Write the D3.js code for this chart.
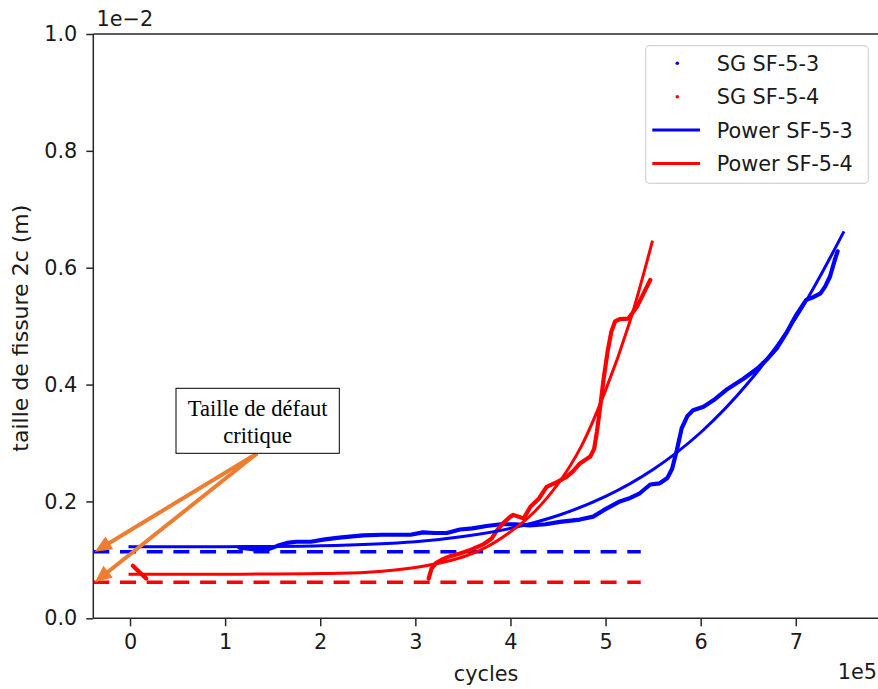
<!DOCTYPE html>
<html>
<head>
<meta charset="utf-8">
<script src="https://cdn.jsdelivr.net/npm/d3@7"></script>
<style>
  html, body { margin: 0; padding: 0; background: #fff; }
  svg { display: block; }
</style>
</head>
<body>
<svg id="chart" width="878" height="689"></svg>
<script>
// ---------------- DATA (x in 1e5 cycles, y in 1e-2 m) ----------------
const xTicks = [0, 1, 2, 3, 4, 5, 6, 7];
const yTicks = [0.0, 0.2, 0.4, 0.6, 0.8, 1.0];

const sgBlueX = [1.15,1.25,1.35,1.45,1.55,1.65,1.75,1.9,2.05,2.2,2.45,2.65,2.95,3.08,3.2,3.33,3.47,3.6,3.75,3.9,4.05,4.2,4.37,4.52,4.73,4.87,4.98,5.15,5.26,5.36,5.47,5.57,5.65,5.7,5.75,5.8,5.86,5.92,6.03,6.15,6.27,6.45,6.6,6.69,6.8,6.9,7.0,7.11,7.19,7.26,7.31,7.36,7.41,7.44];
const sgBlueY = [0.121,0.119,0.117,0.118,0.124,0.129,0.131,0.131,0.135,0.138,0.142,0.143,0.143,0.147,0.146,0.146,0.152,0.154,0.158,0.161,0.161,0.159,0.161,0.165,0.169,0.174,0.185,0.2,0.206,0.214,0.229,0.231,0.24,0.256,0.288,0.325,0.346,0.356,0.362,0.375,0.391,0.41,0.428,0.442,0.462,0.488,0.518,0.545,0.55,0.556,0.568,0.585,0.613,0.628];

const sgRedX = [0.03,0.1,0.17,null,3.14,3.17,3.22,3.3,3.36,3.47,3.58,3.72,3.8,3.86,3.93,4.0,4.03,4.14,4.21,4.3,4.38,4.5,4.59,4.66,4.73,4.84,4.88,4.91,4.95,4.98,5.02,5.06,5.1,5.15,5.24,5.33,5.4,5.47];
const sgRedY = [0.090,0.079,0.068,null,0.068,0.085,0.095,0.102,0.106,0.111,0.117,0.127,0.136,0.151,0.164,0.174,0.177,0.171,0.191,0.205,0.225,0.234,0.242,0.252,0.265,0.277,0.29,0.32,0.37,0.41,0.455,0.49,0.508,0.512,0.513,0.533,0.556,0.579];

const powBlueX = [0, 1, 2, 3, 3.5, 4, 4.5, 5, 5.5, 6, 6.5, 7, 7.5];
const powBlueY = [0.1225, 0.1226, 0.124, 0.131, 0.14, 0.154, 0.176, 0.2086, 0.2547, 0.318, 0.403, 0.514, 0.66];

const powRedX = [0, 1, 2, 2.5, 3, 3.5, 3.75, 4, 4.25, 4.5, 4.75, 5, 5.25, 5.49];
const powRedY = [0.0755, 0.0755, 0.0765, 0.079, 0.087, 0.105, 0.122, 0.148, 0.182, 0.23, 0.296, 0.39, 0.505, 0.644];

const criticalBlue = 0.114;
const criticalRed = 0.0616;
const criticalXEnd = 5.37;

const legendLabels = ["SG SF-5-3", "SG SF-5-4", "Power SF-5-3", "Power SF-5-4"];
const annotationLines = ["Taille de défaut", "critique"];

// ---------------- LAYOUT ----------------
const svg = d3.select("#chart");
const W = 878, H = 689;
const plot = { left: 93.3, right: 879, top: 34, bottom: 618.3 };
const BLUE = "#0000ff", RED = "#ff0000", ORANGE = "#ED7D31";
const FONT = "'DejaVu Sans', sans-serif";
const FS = 20.8;
const TXT = "#1a1a1a";

const x = d3.scaleLinear().domain([-0.386, 7.875]).range([plot.left, plot.right]);
const y = d3.scaleLinear().domain([0, 1.0]).range([plot.bottom, plot.top]);

svg.append("rect").attr("width", W).attr("height", H).attr("fill", "#fff");

svg.append("defs").append("clipPath").attr("id", "clip")
  .append("rect").attr("x", plot.left).attr("y", plot.top)
  .attr("width", plot.right - plot.left).attr("height", plot.bottom - plot.top);

const g = svg.append("g").attr("clip-path", "url(#clip)");

function pts(xs, ys) { return xs.map((v, i) => ({ x: v, y: ys[i] })); }

// critical dashed lines
[[criticalBlue, BLUE], [criticalRed, RED]].forEach(([v, c]) => {
  g.append("line")
    .attr("x1", x(-0.386)).attr("x2", x(criticalXEnd))
    .attr("y1", y(v)).attr("y2", y(v))
    .attr("stroke", c).attr("stroke-width", 3.6)
    .attr("stroke-dasharray", "16,10.7");
});

// SG data (dense scatter -> thick band)
const sgLine = d3.line()
  .defined(d => d.x !== null && d.y !== null)
  .x(d => x(d.x)).y(d => y(d.y));

g.append("path").datum(pts(sgBlueX, sgBlueY))
  .attr("d", sgLine).attr("fill", "none")
  .attr("stroke", BLUE).attr("stroke-width", 4.2)
  .attr("stroke-linejoin", "round").attr("stroke-linecap", "round");

g.append("path").datum(pts(sgRedX, sgRedY))
  .attr("d", sgLine).attr("fill", "none")
  .attr("stroke", RED).attr("stroke-width", 4.2)
  .attr("stroke-linejoin", "round").attr("stroke-linecap", "round");

// Power fits
const powLine = d3.line().curve(d3.curveCatmullRom.alpha(0.5))
  .x(d => x(d.x)).y(d => y(d.y));

g.append("path").datum(pts(powBlueX, powBlueY))
  .attr("d", powLine).attr("fill", "none")
  .attr("stroke", BLUE).attr("stroke-width", 3).attr("stroke-linecap", "square");

g.append("path").datum(pts(powRedX, powRedY))
  .attr("d", powLine).attr("fill", "none")
  .attr("stroke", RED).attr("stroke-width", 3).attr("stroke-linecap", "square");

// ---------------- AXES ----------------
const AX = "#262626";
const xAxis = d3.axisBottom(x).tickValues(xTicks).tickFormat(d3.format("d"))
  .tickSize(8).tickPadding(8);
const xg = svg.append("g").attr("transform", `translate(0,${plot.bottom})`).call(xAxis);
xg.select(".domain").remove();
xg.selectAll(".tick line").attr("stroke", AX).attr("stroke-width", 1.5);
xg.selectAll(".tick text").attr("fill", TXT).style("font-family", FONT).style("font-size", FS + "px");

const yAxis = d3.axisLeft(y).tickValues(yTicks).tickFormat(d3.format(".1f"))
  .tickSize(7).tickPadding(9);
const yg = svg.append("g").attr("transform", `translate(${plot.left},0)`).call(yAxis);
yg.select(".domain").remove();
yg.selectAll(".tick line").attr("stroke", AX).attr("stroke-width", 1.5);
yg.selectAll(".tick text").attr("fill", TXT).style("font-family", FONT).style("font-size", FS + "px");

// spines
const sp = svg.append("g").attr("stroke", AX).attr("stroke-width", 1.5);
sp.append("line").attr("x1", plot.left).attr("x2", plot.left).attr("y1", plot.top).attr("y2", plot.bottom);
sp.append("line").attr("x1", plot.left).attr("x2", plot.right).attr("y1", plot.bottom).attr("y2", plot.bottom);
sp.append("line").attr("x1", plot.left).attr("x2", plot.right).attr("y1", plot.top).attr("y2", plot.top);
sp.append("line").attr("x1", plot.right).attr("x2", plot.right).attr("y1", plot.top).attr("y2", plot.bottom);

// offset texts & labels
svg.append("text").attr("x", 96.5).attr("y", 26).text("1e\u22122")
  .attr("fill", TXT).style("font-family", FONT).style("font-size", FS + "px");
svg.append("text").attr("x", 877).attr("y", 679).attr("text-anchor", "end").text("1e5")
  .attr("fill", TXT).style("font-family", FONT).style("font-size", FS + "px");
svg.append("text").attr("x", 486).attr("y", 681).attr("text-anchor", "middle").text("cycles")
  .attr("fill", TXT).style("font-family", FONT).style("font-size", FS + "px");
svg.append("text")
  .attr("transform", `translate(28,${(plot.top + plot.bottom) / 2 + 2}) rotate(-90)`)
  .attr("text-anchor", "middle").text("taille de fissure 2c (m)")
  .attr("fill", TXT).style("font-family", FONT).style("font-size", "22px");

// ---------------- LEGEND ----------------
const lg = svg.append("g");
lg.append("rect").attr("x", 645.7).attr("y", 45.7).attr("width", 222.6).attr("height", 137.6)
  .attr("rx", 4).attr("fill", "#fff").attr("fill-opacity", 0.8)
  .attr("stroke", "#d4d4d4").attr("stroke-width", 1.2);
const legendColors = [BLUE, RED, BLUE, RED];
legendLabels.forEach((lab, i) => {
  const cy = 63.3 + i * 33.4;
  if (i < 2) {
    lg.append("circle").attr("cx", 677.3).attr("cy", cy).attr("r", 1.8).attr("fill", legendColors[i]);
  } else {
    lg.append("line").attr("x1", 652.3).attr("x2", 700).attr("y1", cy).attr("y2", cy)
      .attr("stroke", legendColors[i]).attr("stroke-width", 3);
  }
  lg.append("text").attr("x", 716.7).attr("y", cy).attr("dy", "0.36em").text(lab)
    .attr("fill", TXT).style("font-family", FONT).style("font-size", FS + "px");
});

// ---------------- ANNOTATION ----------------
const box = { x: 176, y: 388.3, w: 163.3, h: 65 };
const start = { x: 257, y: 453.5 };
const tips = [{ x: x(-0.386) + 1.5, y: y(criticalBlue) }, { x: x(-0.386) + 1.5, y: y(criticalRed) }];
const ag = svg.append("g");
tips.forEach(t => {
  const dx = t.x - start.x, dy = t.y - start.y;
  const L = Math.hypot(dx, dy);
  const ux = dx / L, uy = dy / L;
  const headL = 17, headW = 7.5;
  const bx = t.x - ux * headL, by = t.y - uy * headL;
  ag.append("line").attr("x1", start.x).attr("y1", start.y).attr("x2", bx + ux * 2).attr("y2", by + uy * 2)
    .attr("stroke", ORANGE).attr("stroke-width", 4);
  ag.append("polygon")
    .attr("points", [[t.x, t.y], [bx - uy * headW, by + ux * headW], [bx + uy * headW, by - ux * headW]].map(p => p.join(",")).join(" "))
    .attr("fill", ORANGE);
});
svg.append("rect").attr("x", box.x).attr("y", box.y).attr("width", box.w).attr("height", box.h)
  .attr("fill", "#fff").attr("stroke", "#000").attr("stroke-width", 1);
annotationLines.forEach((t, i) => {
  svg.append("text").attr("x", box.x + box.w / 2).attr("y", 416 + i * 26.7)
    .attr("text-anchor", "middle").text(t)
    .attr("fill", "#000").style("font-family", "'Liberation Serif', 'Times New Roman', serif").style("font-size", "22.5px");
});
</script>
</body>
</html>
